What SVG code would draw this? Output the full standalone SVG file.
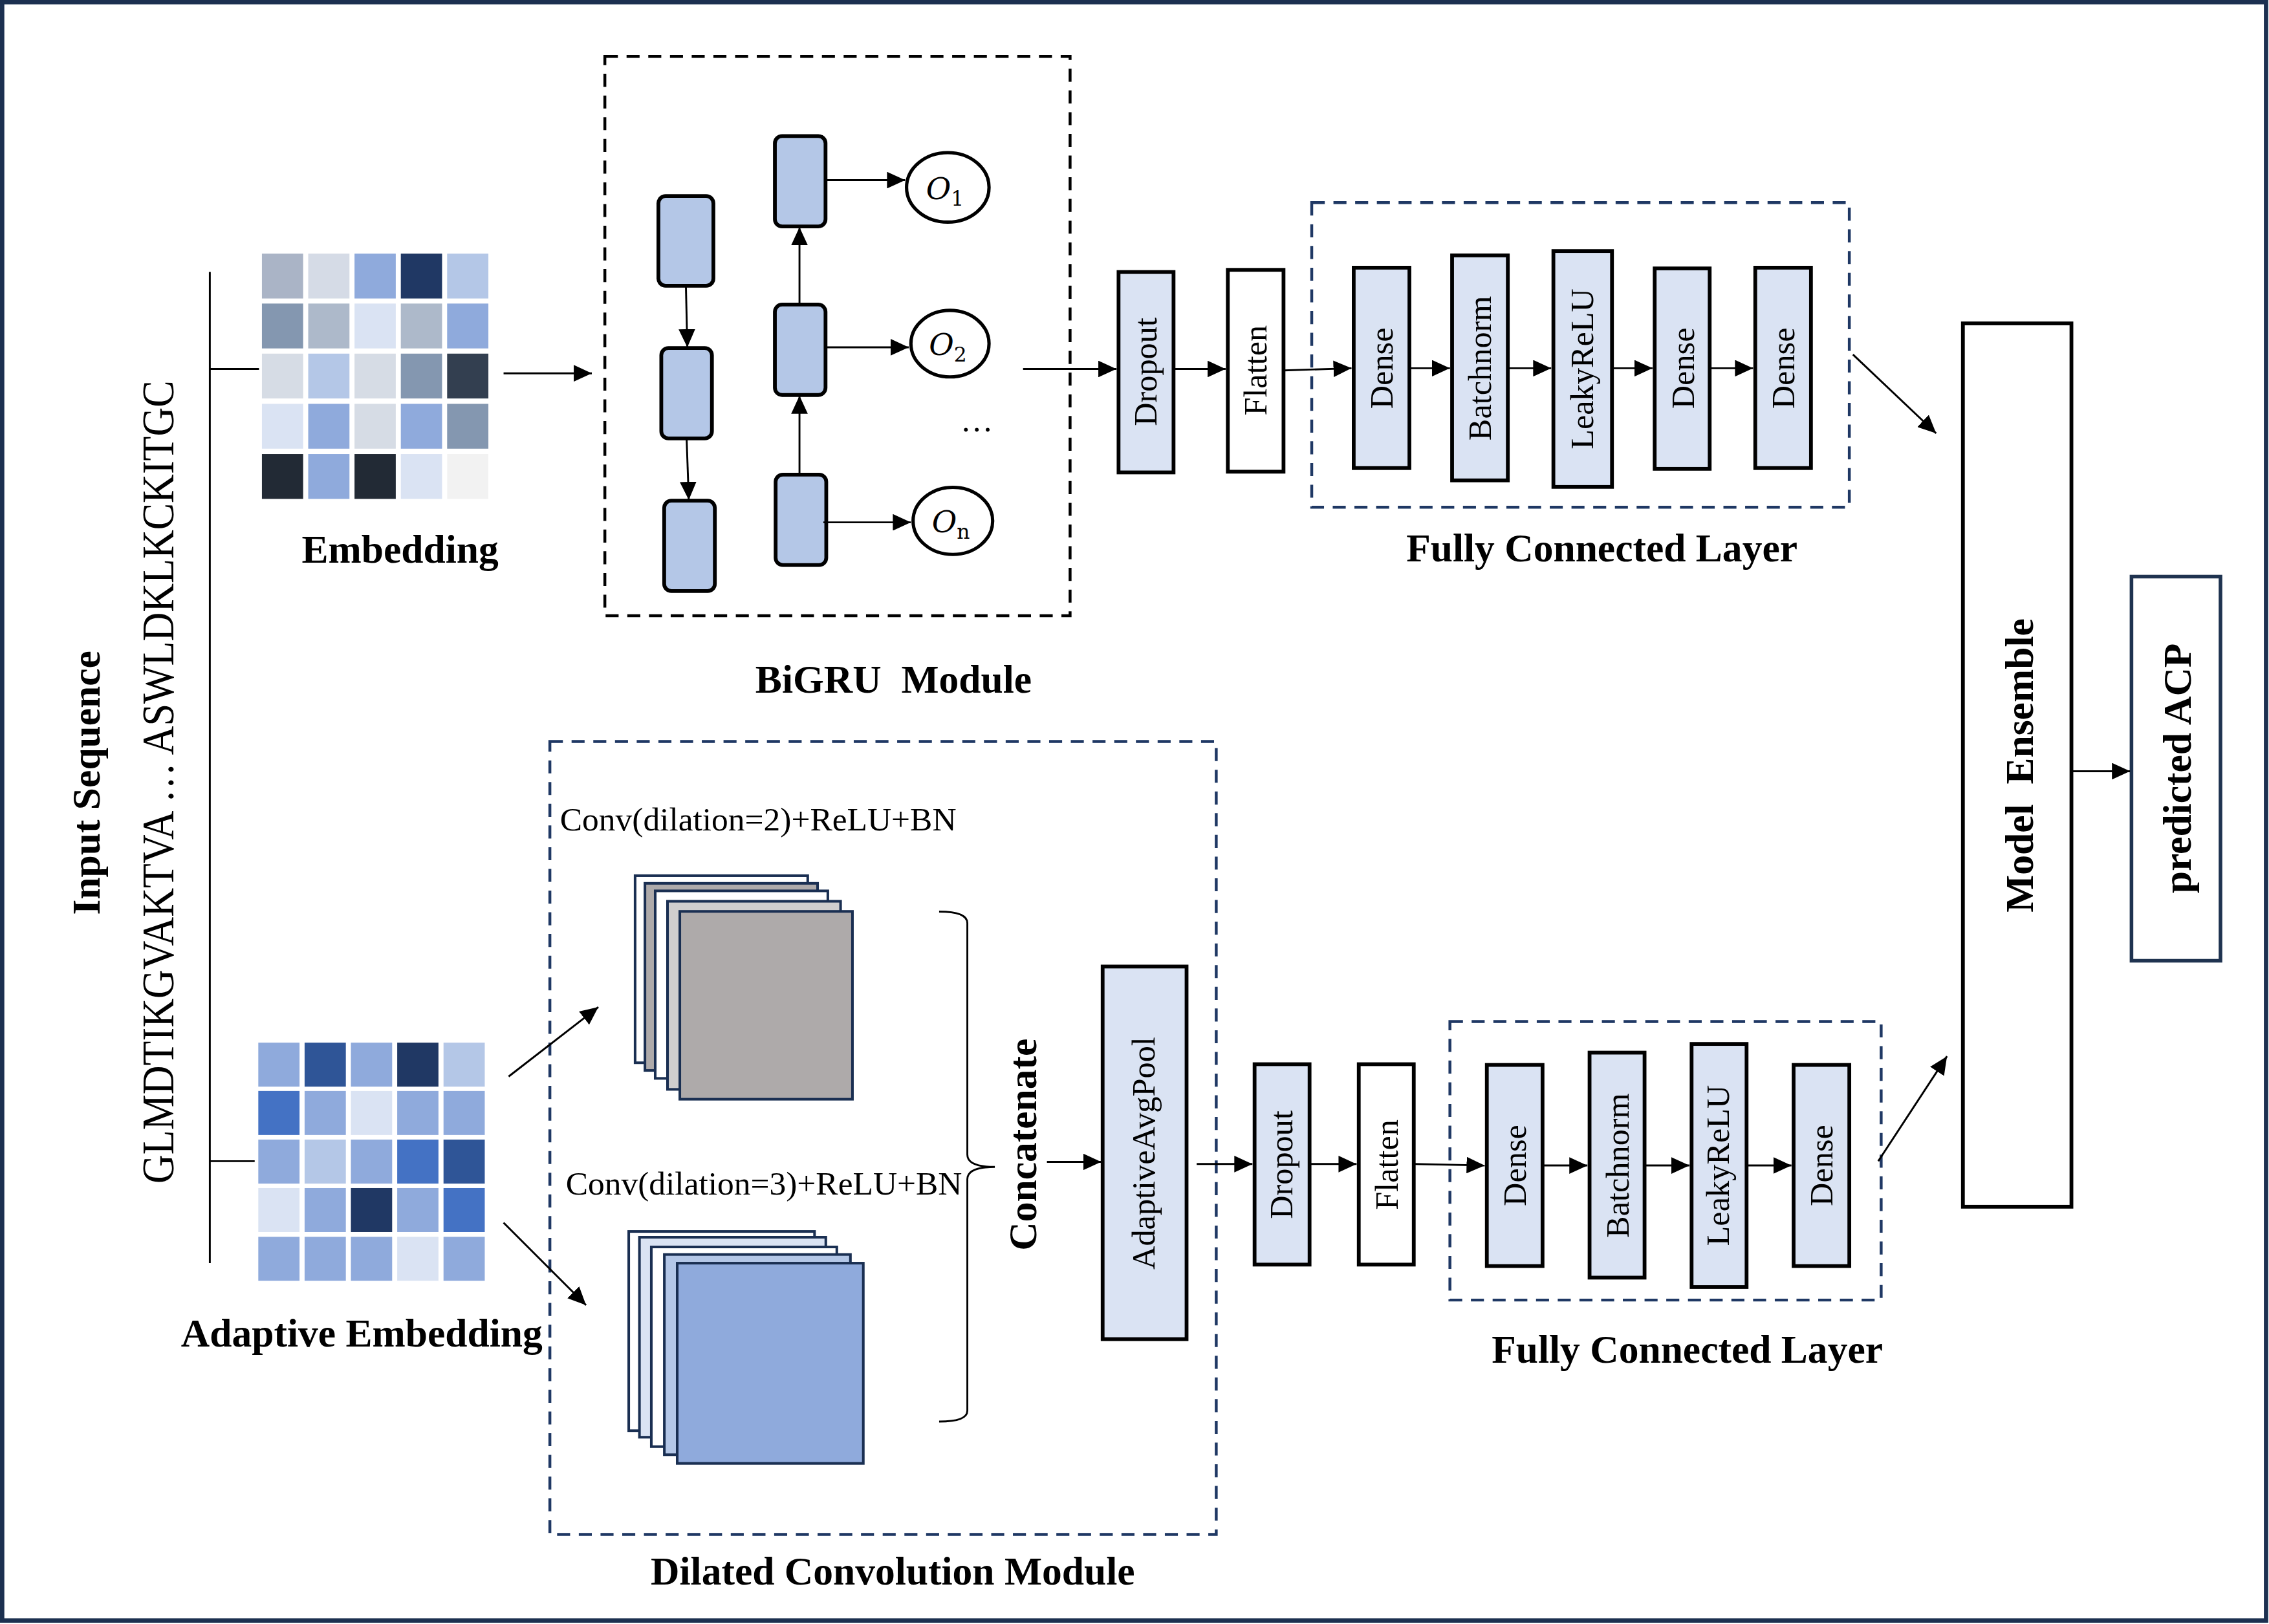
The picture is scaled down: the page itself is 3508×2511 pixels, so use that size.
<svg xmlns="http://www.w3.org/2000/svg" width="3508" height="2511" viewBox="0 0 3508 2511">
<style>
.bx{stroke:#000;stroke-width:2.6}
.lb{fill:#dae3f3}
.wh{fill:#fff}
.cell{fill:#b4c7e7;stroke:#000;stroke-width:2.6}
.dk{fill:none;stroke:#000;stroke-width:2;stroke-dasharray:9 6}
.dn{fill:none;stroke:#1f3864;stroke-width:2;stroke-dasharray:9 6}
.ly{stroke:#1a2f52;stroke-width:1.8}
.c{fill:none;stroke:#000;stroke-width:1.3}
.a{marker-end:url(#ah)}
.b{font-family:"Liberation Serif","Times New Roman",serif;font-weight:bold;font-size:27.5px;fill:#000}
.r{font-family:"Liberation Serif","Times New Roman",serif;font-size:22.5px;fill:#000}
.m{text-anchor:middle}
.o{font-family:"DejaVu Serif","Liberation Serif",serif;font-style:italic;font-size:21px}
.s{font-family:"DejaVu Serif","Liberation Serif",serif;font-size:14px}
</style>
<defs>
<marker id="ah" viewBox="0 0 12.5 11.5" refX="12.5" refY="5.75" markerWidth="12.5" markerHeight="11.5" markerUnits="userSpaceOnUse" orient="auto"><path d="M0,0 L12.5,5.75 L0,11.5 z" fill="#000"/></marker>
</defs>
<rect x="0" y="0" width="3508" height="2511" fill="#fff"/>
<g transform="scale(2.2372)">
<rect x="1.5" y="1.5" width="1564.5" height="1118.5" fill="none" stroke="#1c3050" stroke-width="3"/>

<g id="input">
<text class="b m" transform="translate(69,541) rotate(-90)">Input Sequence</text>
<text class="r m" style="font-size:31px" textLength="555" lengthAdjust="spacingAndGlyphs" transform="translate(120,540.5) rotate(-90)">GLMDTIKGVAKTVA … ASWLDKLKCKITGC</text>
</g>

<g id="embedding">
<rect x="181" y="175.3" width="28.5" height="31" fill="#aab4c6"/>
<rect x="213" y="175.3" width="28.5" height="31" fill="#d5dbe6"/>
<rect x="245" y="175.3" width="28.5" height="31" fill="#8faadc"/>
<rect x="277" y="175.3" width="28.5" height="31" fill="#203864"/>
<rect x="309" y="175.3" width="28.5" height="31" fill="#b4c7e7"/>
<rect x="181" y="209.8" width="28.5" height="31" fill="#8497b0"/>
<rect x="213" y="209.8" width="28.5" height="31" fill="#adb9ca"/>
<rect x="245" y="209.8" width="28.5" height="31" fill="#dae3f3"/>
<rect x="277" y="209.8" width="28.5" height="31" fill="#adb9ca"/>
<rect x="309" y="209.8" width="28.5" height="31" fill="#8faadc"/>
<rect x="181" y="244.4" width="28.5" height="31" fill="#d6dce5"/>
<rect x="213" y="244.4" width="28.5" height="31" fill="#b4c7e7"/>
<rect x="245" y="244.4" width="28.5" height="31" fill="#d6dce5"/>
<rect x="277" y="244.4" width="28.5" height="31" fill="#8497b0"/>
<rect x="309" y="244.4" width="28.5" height="31" fill="#333f50"/>
<rect x="181" y="279.1" width="28.5" height="31" fill="#dae3f3"/>
<rect x="213" y="279.1" width="28.5" height="31" fill="#8faadc"/>
<rect x="245" y="279.1" width="28.5" height="31" fill="#d6dce5"/>
<rect x="277" y="279.1" width="28.5" height="31" fill="#8faadc"/>
<rect x="309" y="279.1" width="28.5" height="31" fill="#8497b0"/>
<rect x="181" y="313.8" width="28.5" height="31" fill="#222a35"/>
<rect x="213" y="313.8" width="28.5" height="31" fill="#8faadc"/>
<rect x="245" y="313.8" width="28.5" height="31" fill="#222a35"/>
<rect x="277" y="313.8" width="28.5" height="31" fill="#dae3f3"/>
<rect x="309" y="313.8" width="28.5" height="31" fill="#f2f2f2"/>
<text class="b m" x="276.5" y="389">Embedding</text>
</g>

<g id="adaptive-embedding">
<rect x="178.5" y="720.6" width="28.5" height="30.4" fill="#8faadc"/>
<rect x="210.5" y="720.6" width="28.5" height="30.4" fill="#2f5597"/>
<rect x="242.5" y="720.6" width="28.5" height="30.4" fill="#8faadc"/>
<rect x="274.5" y="720.6" width="28.5" height="30.4" fill="#203864"/>
<rect x="306.5" y="720.6" width="28.5" height="30.4" fill="#b4c7e7"/>
<rect x="178.5" y="754" width="28.5" height="30.4" fill="#4472c4"/>
<rect x="210.5" y="754" width="28.5" height="30.4" fill="#8faadc"/>
<rect x="242.5" y="754" width="28.5" height="30.4" fill="#dae3f3"/>
<rect x="274.5" y="754" width="28.5" height="30.4" fill="#8faadc"/>
<rect x="306.5" y="754" width="28.5" height="30.4" fill="#8faadc"/>
<rect x="178.5" y="787.6" width="28.5" height="30.4" fill="#8faadc"/>
<rect x="210.5" y="787.6" width="28.5" height="30.4" fill="#b4c7e7"/>
<rect x="242.5" y="787.6" width="28.5" height="30.4" fill="#8faadc"/>
<rect x="274.5" y="787.6" width="28.5" height="30.4" fill="#4472c4"/>
<rect x="306.5" y="787.6" width="28.5" height="30.4" fill="#2f5597"/>
<rect x="178.5" y="821.1" width="28.5" height="30.4" fill="#dae3f3"/>
<rect x="210.5" y="821.1" width="28.5" height="30.4" fill="#8faadc"/>
<rect x="242.5" y="821.1" width="28.5" height="30.4" fill="#203864"/>
<rect x="274.5" y="821.1" width="28.5" height="30.4" fill="#8faadc"/>
<rect x="306.5" y="821.1" width="28.5" height="30.4" fill="#4472c4"/>
<rect x="178.5" y="854.8" width="28.5" height="30.4" fill="#8faadc"/>
<rect x="210.5" y="854.8" width="28.5" height="30.4" fill="#8faadc"/>
<rect x="242.5" y="854.8" width="28.5" height="30.4" fill="#8faadc"/>
<rect x="274.5" y="854.8" width="28.5" height="30.4" fill="#dae3f3"/>
<rect x="306.5" y="854.8" width="28.5" height="30.4" fill="#8faadc"/>
<text class="b m" x="250" y="930.5">Adaptive Embedding</text>
</g>

<g id="bigru">
<rect class="dk" x="418" y="39" width="321.5" height="386.5"/>
<rect class="cell" x="455" y="135.5" width="38" height="62" rx="5"/>
<rect class="cell" x="457" y="240.5" width="35" height="62.5" rx="5"/>
<rect class="cell" x="459" y="346" width="35" height="62.5" rx="5"/>
<rect class="cell" x="535.5" y="94" width="35" height="62.5" rx="5"/>
<rect class="cell" x="535.5" y="210.5" width="35" height="62.5" rx="5"/>
<rect class="cell" x="536" y="328" width="35" height="62.5" rx="5"/>
<ellipse cx="655" cy="129.5" rx="28.5" ry="24" fill="#fff" stroke="#000" stroke-width="2.3"/>
<ellipse cx="656.5" cy="237.5" rx="27" ry="23" fill="#fff" stroke="#000" stroke-width="2.3"/>
<ellipse cx="658.5" cy="360" rx="27.5" ry="23.2" fill="#fff" stroke="#000" stroke-width="2.3"/>
<text x="640" y="137.5"><tspan class="o">O</tspan><tspan class="s" dy="4.5">1</tspan></text>
<text x="642" y="245.5"><tspan class="o">O</tspan><tspan class="s" dy="4.5">2</tspan></text>
<text x="644" y="368"><tspan class="o">O</tspan><tspan class="s" dy="4.5">n</tspan></text>
<text class="r m" x="675" y="298">…</text>
<text class="b m" x="617.5" y="478.5" xml:space="preserve">BiGRU  Module</text>
</g>

<g id="dropout-top"><rect class="bx lb" x="773" y="188" width="38" height="138.5"/><text class="r m" transform="translate(799,257) rotate(-90)">Dropout</text></g>
<g id="flatten-top"><rect class="bx wh" x="848.5" y="186.5" width="38.5" height="139.5"/><text class="r m" transform="translate(875,256) rotate(-90)">Flatten</text></g>
<g id="fc-top">
<rect class="dn" x="906.5" y="140" width="371.5" height="210.5"/>
<rect class="bx lb" x="935.5" y="185" width="38.5" height="138.5"/><text class="r m" transform="translate(962.5,254.5) rotate(-90)">Dense</text>
<rect class="bx lb" x="1003.5" y="176.5" width="38.5" height="155.5"/><text class="r m" transform="translate(1030.5,254.5) rotate(-90)">Batchnorm</text>
<rect class="bx lb" x="1073.5" y="173.5" width="40.5" height="163"/><text class="r m" transform="translate(1101,255) rotate(-90)">LeakyReLU</text>
<rect class="bx lb" x="1143.5" y="185.5" width="38" height="138.5"/><text class="r m" transform="translate(1170.5,254.5) rotate(-90)">Dense</text>
<rect class="bx lb" x="1213" y="185" width="38.5" height="138.5"/><text class="r m" transform="translate(1240,254.5) rotate(-90)">Dense</text>
<text class="b m" x="1107" y="388">Fully Connected Layer</text>
</g>

<g id="model-ensemble"><rect class="bx wh" x="1356.5" y="223.5" width="75" height="610.5"/><text class="b m" transform="translate(1405,529) rotate(-90)" xml:space="preserve">Model  Ensemble</text></g>
<g id="predicted"><rect x="1473" y="398.5" width="61.5" height="265.5" fill="#fff" stroke="#1f3350" stroke-width="2.5"/><text class="b m" transform="translate(1514,531) rotate(-90)">predicted ACP</text></g>

<g id="dilated-conv">
<rect class="dn" x="380" y="512.5" width="460.5" height="548"/>
<text class="r" x="387" y="574" style="font-size:23px">Conv(dilation=2)+ReLU+BN</text>
<text class="r" x="391" y="825.5" style="font-size:23px">Conv(dilation=3)+ReLU+BN</text>
<rect class="ly" x="438.9" y="605.2" width="119.3" height="129.3" fill="#fff"/>
<rect class="ly" x="445.7" y="610.5" width="119.3" height="129.3" fill="#aeaaaa"/>
<rect class="ly" x="452.8" y="615.7" width="119.3" height="129.6" fill="#fff"/>
<rect class="ly" x="461.3" y="622.9" width="119.6" height="130" fill="#d0cece"/>
<rect class="ly" x="469.8" y="629.9" width="119.3" height="129.8" fill="#aeaaaa"/>
<rect class="ly" x="434.5" y="851.1" width="128.4" height="137.7" fill="#fff"/>
<rect class="ly" x="441.9" y="855.1" width="128.8" height="138.2" fill="#dae3f3"/>
<rect class="ly" x="450.1" y="861.8" width="128.2" height="138" fill="#fff"/>
<rect class="ly" x="459.1" y="867" width="128.6" height="138.4" fill="#b4c7e7"/>
<rect class="ly" x="468" y="873" width="128.6" height="138.4" fill="#8faadc"/>
<path class="c" d="M649,630 Q668.5,630 668.5,638 L668.5,798 Q668.5,806.5 687.5,806.5 Q668.5,806.5 668.5,815 L668.5,975 Q668.5,982.5 649,982.5"/>
<text class="b m" transform="translate(716,791) rotate(-90)">Concatenate</text>
<rect class="bx lb" x="762" y="668" width="58" height="257.5"/><text class="r m" transform="translate(798,797) rotate(-90)">AdaptiveAvgPool</text>
<text class="b m" x="617" y="1095">Dilated Convolution Module</text>
</g>

<g id="dropout-bottom"><rect class="bx lb" x="867" y="735.5" width="38" height="138.5"/><text class="r m" transform="translate(893,805) rotate(-90)">Dropout</text></g>
<g id="flatten-bottom"><rect class="bx wh" x="939" y="735.5" width="38" height="138.5"/><text class="r m" transform="translate(966,805) rotate(-90)">Flatten</text></g>
<g id="fc-bottom">
<rect class="dn" x="1002" y="706" width="298" height="192.5"/>
<rect class="bx lb" x="1027.5" y="736" width="38.5" height="139"/><text class="r m" transform="translate(1054.5,805.5) rotate(-90)">Dense</text>
<rect class="bx lb" x="1098.5" y="727.5" width="38" height="155.5"/><text class="r m" transform="translate(1125.5,805.5) rotate(-90)">Batchnorm</text>
<rect class="bx lb" x="1169" y="721.5" width="38" height="168"/><text class="r m" transform="translate(1195,805.5) rotate(-90)">LeakyReLU</text>
<rect class="bx lb" x="1239.5" y="736" width="38.5" height="139"/><text class="r m" transform="translate(1266.5,805.5) rotate(-90)">Dense</text>
<text class="b m" x="1166" y="942">Fully Connected Layer</text>
</g>

<g id="connectors">
<path class="c" d="M145,188 V873 M145,255 H179 M145,802.5 H176"/>
<line class="c a" x1="348" y1="258" x2="409" y2="258"/>
<line class="c a" x1="474" y1="197.5" x2="475" y2="240"/>
<line class="c a" x1="474.5" y1="303" x2="476" y2="345.5"/>
<line class="c a" x1="552.5" y1="328" x2="552.5" y2="273.5"/>
<line class="c a" x1="552.5" y1="210.5" x2="552.5" y2="157"/>
<line class="c a" x1="570.5" y1="124.5" x2="625.5" y2="124.5"/>
<line class="c a" x1="570.5" y1="240" x2="628" y2="240"/>
<line class="c a" x1="569" y1="361" x2="629.5" y2="361"/>
<line class="c a" x1="707" y1="255" x2="771.5" y2="255"/>
<line class="c a" x1="811" y1="255" x2="847" y2="255"/>
<line class="c a" x1="887" y1="256" x2="934" y2="254.5"/>
<line class="c a" x1="974" y1="254.5" x2="1002" y2="254.5"/>
<line class="c a" x1="1042" y1="254.5" x2="1072" y2="254.5"/>
<line class="c a" x1="1114" y1="254.5" x2="1142" y2="254.5"/>
<line class="c a" x1="1181.5" y1="254.5" x2="1211.5" y2="254.5"/>
<line class="c a" x1="1280.5" y1="245" x2="1338" y2="299.5"/>
<line class="c a" x1="1431.5" y1="533" x2="1472" y2="533"/>
<line class="c a" x1="351.5" y1="744" x2="413.5" y2="696"/>
<line class="c a" x1="348" y1="845" x2="405" y2="902"/>
<line class="c a" x1="723.5" y1="803" x2="761" y2="803"/>
<line class="c a" x1="827" y1="804.5" x2="865.5" y2="804.5"/>
<line class="c a" x1="905" y1="804.5" x2="937.5" y2="804.5"/>
<line class="c a" x1="977" y1="804.5" x2="1026" y2="805.5"/>
<line class="c a" x1="1066" y1="805.5" x2="1097" y2="805.5"/>
<line class="c a" x1="1136.5" y1="805.5" x2="1167.5" y2="805.5"/>
<line class="c a" x1="1207" y1="805.5" x2="1238" y2="805.5"/>
<line class="c a" x1="1298" y1="802.5" x2="1345.5" y2="730"/>
</g>
</g>
</svg>
